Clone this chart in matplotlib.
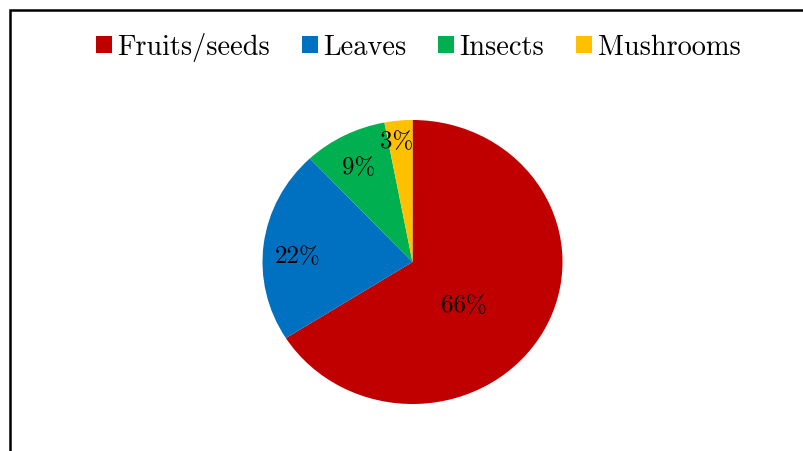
import matplotlib.pyplot as plt
from matplotlib.patches import Rectangle

# Diet composition
categories = ['Fruits/seeds', 'Leaves', 'Insects', 'Mushrooms']
shares = [66, 22, 9, 3]
colors = ['#C00000', '#0070C0', '#00B050', '#FFC000']

# Where each percentage label sits (axes data units, pie radius = 1)
label_xy = [(0.343, -0.345), (-0.763, 0.0), (-0.357, 0.627), (-0.103, 0.81)]

plt.rcParams['font.family'] = ['cmr10', 'DejaVu Serif']
plt.rcParams['axes.unicode_minus'] = False

W, H = 804, 452
fig = plt.figure(figsize=(W / 100, H / 100), dpi=100)
fig.patch.set_facecolor('white')

# Pie axes: a bit wider than tall
cx, cy, rx, ry = 412.5, 263, 150, 142
ax = fig.add_axes([(cx - rx) / W, (H - cy - ry) / H, 2 * rx / W, 2 * ry / H])

wedges, texts, autotexts = ax.pie(
    shares, colors=colors, startangle=90, counterclock=False,
    radius=1, autopct='%1.0f%%', wedgeprops=dict(linewidth=0),
    textprops=dict(fontsize=18, color='black'))
ax.set_aspect('auto')
ax.set_xlim(-1, 1)
ax.set_ylim(-1, 1)
ax.axis('off')

for t, (x, y) in zip(autotexts, label_xy):
    t.set_position((x, y))
    t.set_ha('center')
    t.set_va('baseline')

# Legend across the top
fig.legend(wedges, categories, loc='center', bbox_to_anchor=(418 / W, 1 - 48 / H),
           ncol=4, frameon=False, fontsize=20.4,
           handlelength=0.57, handleheight=0.55, handletextpad=0.18,
           columnspacing=1.13, borderaxespad=0, borderpad=0)

# Chart border (top and left edges visible)
fig.patches.append(Rectangle((10 / W, -20 / H), (W + 20) / W, (H - 11 + 20) / H,
                             transform=fig.transFigure, fill=False,
                             edgecolor='black', linewidth=1.8))

fig.savefig('out.png', dpi=100)
